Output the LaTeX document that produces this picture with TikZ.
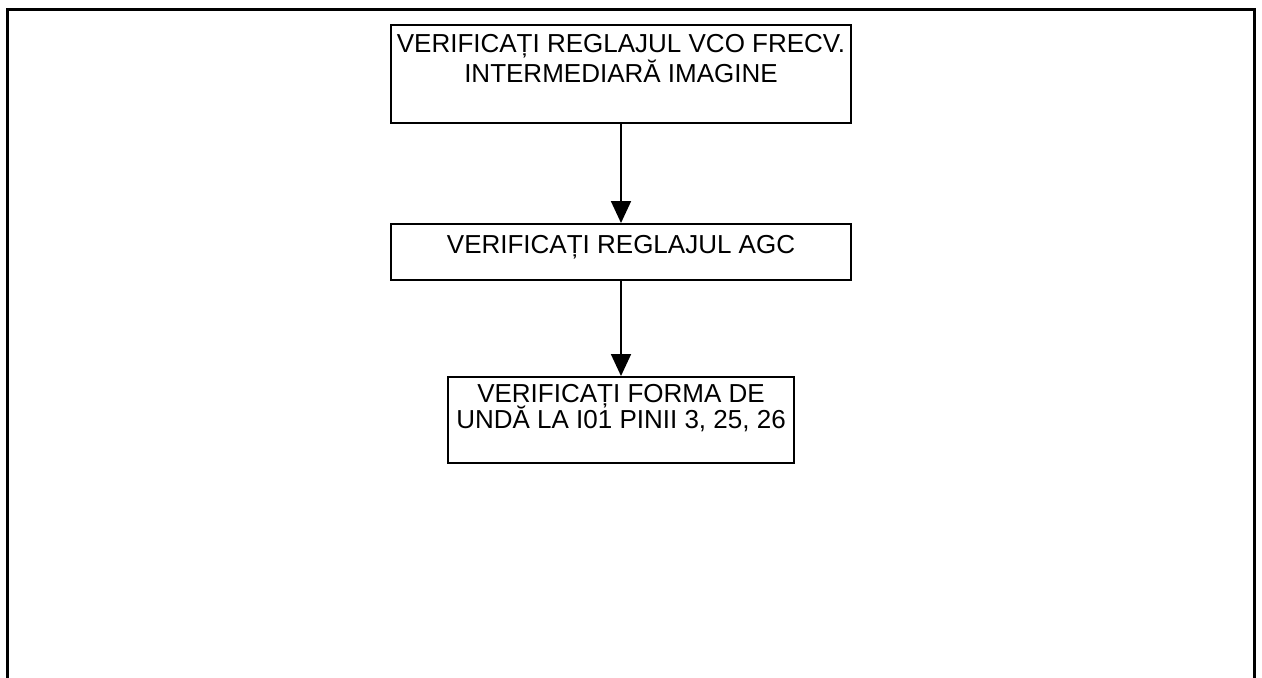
\documentclass[tikz,border=0pt]{standalone}
\usepackage{fontspec}
\setmainfont{Liberation Sans}
\usetikzlibrary{arrows.meta}
\newcommand\tightlines{\lineskiplimit=-20pt\relax}

\begin{document}
\begin{tikzpicture}[
  x=0.5pt, y=-0.5pt,
  stepbox/.style={draw, line width=1pt, anchor=north, align=center,
                  inner sep=0pt, text height=14pt,
                  font=\fontsize{13}{15}\selectfont},
  arr/.style={-{Triangle[length=11pt, width=10pt]}, line width=0.9pt},
  frame/.style={line width=1.5pt}
]
\useasboundingbox (0,0) rectangle (1262,677);

% Outer frame (open at the bottom)
\draw[frame] (7,680) -- (7,9) -- (1254,9) -- (1254,680);

% Steps
\node[stepbox, minimum width=230pt, text height=28.5pt, text depth=20.5pt] at (621,24) (vco)
  {VERIFICAȚI REGLAJUL VCO FRECV.\\INTERMEDIARĂ IMAGINE};
\node[stepbox, minimum width=230pt, text height=14.5pt, text depth=13.5pt] at (621,223) (agc)
  {VERIFICAȚI REGLAJUL AGC};
\node[stepbox, minimum width=173pt, text height=25.5pt, text depth=17.5pt,
      font=\fontsize{13}{13}\selectfont\tightlines] at (621,376) (forma)
  {VERIFICAȚI FORMA DE\\UNDĂ LA I01 PINII 3, 25, 26};

% Arrows
\draw[arr] (vco.south) -- (agc.north);
\draw[arr] (agc.south) -- (forma.north);

\end{tikzpicture}
\end{document}
